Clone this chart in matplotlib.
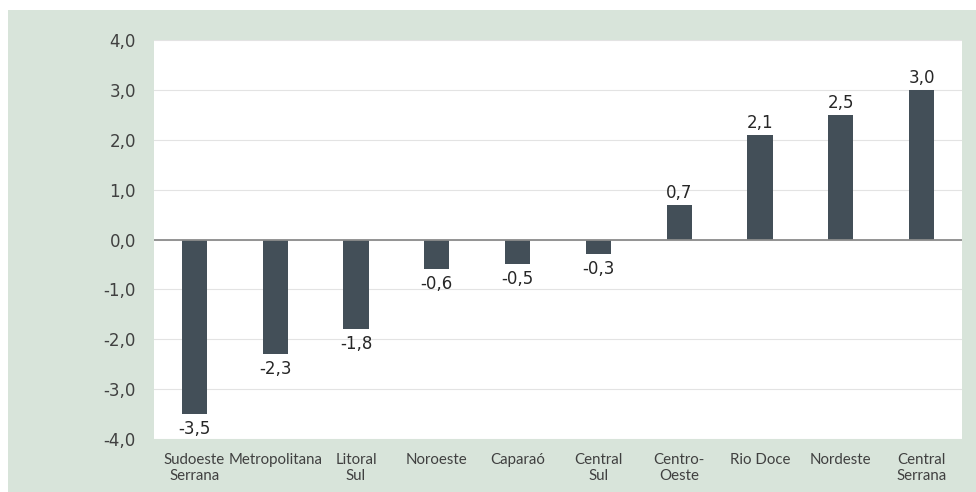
import matplotlib
matplotlib.use("Agg")
import matplotlib.pyplot as plt
from matplotlib.patches import Rectangle

categories = ["Sudoeste\nSerrana", "Metropolitana", "Litoral\nSul", "Noroeste", "Caparaó",
              "Central\nSul", "Centro-\nOeste", "Rio Doce", "Nordeste", "Central\nSerrana"]
values = [-3.5, -2.3, -1.8, -0.6, -0.5, -0.3, 0.7, 2.1, 2.5, 3.0]
yticks = [-4, -3, -2, -1, 0, 1, 2, 3, 4]

def fmt(v):
    return f"{v:.1f}".replace(".", ",")

fig = plt.figure(figsize=(9.76, 4.92), dpi=100)
fig.patch.set_facecolor("white")
fig.patches.append(Rectangle((8 / 976, 0), 1 - 8 / 976, (492 - 10) / 492,
                             transform=fig.transFigure, facecolor="#d8e4da",
                             edgecolor="none", zorder=-10))

ax = fig.add_axes([154 / 976, 1 - 439 / 492, (962 - 154) / 976, (439 - 40) / 492])
ax.set_zorder(5)
ax.set_facecolor("white")
x = list(range(len(categories)))
ax.bar(x, values, width=0.31, color="#434f58", zorder=3)
ax.axhline(0, color="#8c8c8c", lw=1.3, zorder=4)

ax.set_xlim(-0.5, len(categories) - 0.5)
ax.set_ylim(-4, 4)
ax.set_yticks(yticks)
ax.set_yticklabels([fmt(v) for v in yticks], fontsize=12, color="#404040")
ax.yaxis.grid(True, color="#e3e3e3", lw=0.8, zorder=0)
ax.set_axisbelow(True)
ax.tick_params(axis="y", length=0, pad=13)
ax.set_xticks(x)
ax.set_xticklabels(categories, fontsize=10.8, color="#404040", family="Lato",
                   linespacing=1.2, va="top")
ax.tick_params(axis="x", length=0, pad=10)
for s in ax.spines.values():
    s.set_visible(False)

for xi, v in zip(x, values):
    if v >= 0:
        ax.annotate(fmt(v), (xi, v), xytext=(0, 2), textcoords="offset points",
                    ha="center", va="bottom", fontsize=12, color="#262626")
    else:
        ax.annotate(fmt(v), (xi, v), xytext=(0, -4), textcoords="offset points",
                    ha="center", va="top", fontsize=12, color="#262626")

fig.savefig("out.png", dpi=100)
